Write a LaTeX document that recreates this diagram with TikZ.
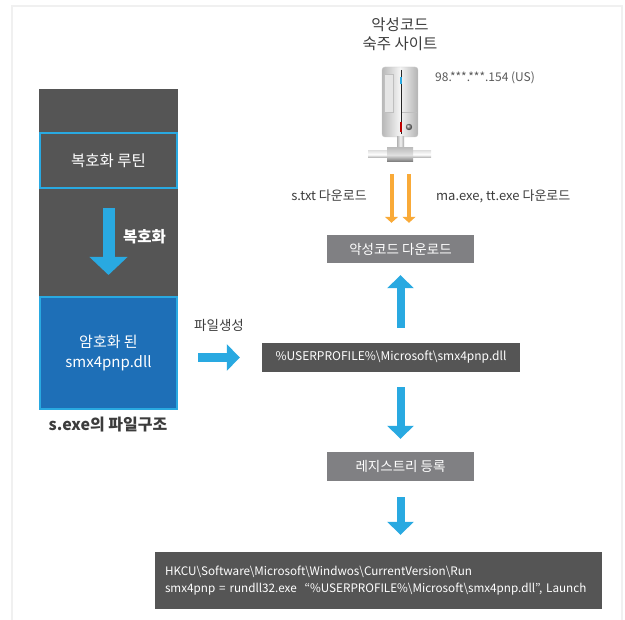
\documentclass[tikz,border=0pt]{standalone}
\usepackage{fontspec}
\setmainfont{Noto Sans CJK KR}
\usepackage{xcolor}
\definecolor{mwdark}{HTML}{555555}
\definecolor{mwgrey}{HTML}{808083}
\definecolor{mwsky}{HTML}{29A9E1}
\definecolor{mwblue}{HTML}{1E6FB7}
\definecolor{mworange}{HTML}{F9AA38}
\definecolor{mwtext}{HTML}{3C3C3C}
\definecolor{mwframe}{HTML}{F0F0F0}
\usepackage{tikz}
\usetikzlibrary{arrows.meta}

\begin{document}
\begin{tikzpicture}[x=1pt,y=-1pt,
  box/.style={inner sep=0pt,text=white,font=\fontsize{13.5}{15}\selectfont},
  darkbox/.style={box,fill=mwdark},
  greybox/.style={box,fill=mwgrey},
  skyline/.style={draw=mwsky,line width=2pt},
  bigarrow/.style={mwsky,line width=8pt,-{Triangle[width=26pt,length=13pt]}},
  dlarrow/.style={mworange,line width=4pt,-{Triangle[width=13pt,length=6pt]}},
  lbl/.style={text=mwtext,inner sep=0pt,font=\fontsize{13}{14}\selectfont}]
\useasboundingbox (0,0) rectangle (625,620);
\draw[mwframe,line width=2pt] (12,620) -- (12,6) -- (622,6) -- (622,620);

% file layout of s.exe
\node[darkbox,minimum width=139pt,minimum height=321pt] (col) at (108.5,249.5) {};
\node[darkbox,skyline,minimum width=137pt,minimum height=55pt,
  font=\fontsize{15.5}{17}\selectfont] (dec) at (108.5,160.5) {복호화 루틴};
\node[box,fill=mwblue,skyline,minimum width=137pt,minimum height=112pt,align=center,
  font=\fontsize{15}{20}\selectfont] (enc) at (108.5,353) {암호화 된\\smx4pnp.dll};
\draw[bigarrow,line width=12pt,-{Triangle[width=37pt,length=18pt]},
  shorten <=19pt,shorten >=21pt] (dec) -- (enc);
\node[text=white,anchor=west,inner sep=0pt,font=\bfseries\fontsize{15.5}{17}\selectfont]
  (declbl) at (123,237) {복호화};
\node[lbl,font=\bfseries\fontsize{16}{17}\selectfont] (cap) at (108,425) {s.exe의 파일구조};

% dropped dll and what it does
\node[darkbox,minimum width=258pt,minimum height=29pt,font=\fontsize{12}{14}\selectfont] (path) at (391,357.5)
  {\%USERPROFILE\%\textbackslash Microsoft\textbackslash smx4pnp.dll};
\draw[bigarrow,line width=9pt,shorten <=20pt,shorten >=22pt] (enc.east |- path.west) -- (path.west);
\node[lbl,font=\fontsize{13.5}{14}\selectfont] (mk) at (219,325) {파일생성};

\node[greybox,minimum width=147pt,minimum height=28pt] (dl) at (400.5,249) {악성코드 다운로드};
\node[greybox,minimum width=147pt,minimum height=29pt] (reg) at (400.5,466.5) {레지스트리 등록};
\node[darkbox,minimum width=447pt,minimum height=57pt,text width=427pt,align=left,
  font=\fontsize{11.7}{17}\selectfont] (run) at (378.5,580.5)
  {HKCU\textbackslash Software\textbackslash Microsoft\textbackslash Windwos\textbackslash CurrentVersion\textbackslash Run\\
   smx4pnp = rundll32.exe\ \ “\%USERPROFILE\%\textbackslash Microsoft\textbackslash smx4pnp.dll”, Launch};

\draw[bigarrow,shorten <=15pt,shorten >=12pt] (path.north -| dl) -- (dl.south);
\draw[bigarrow,shorten <=15pt,shorten >=13pt] (path.south -| reg) -- (reg.north);
\draw[bigarrow,shorten <=16pt,shorten >=17pt] (reg.south) -- (reg.south |- run.north);

% host server
\node[lbl,align=center,font=\fontsize{15.5}{19}\selectfont] (site) at (400,34) {악성코드\\숙주 사이트};
\shade[rounded corners=3pt,left color=black!28,right color=black!30,middle color=black!4]
  (382,67) rectangle (418,137);
\draw[black!22,line width=0.4pt,rounded corners=3pt] (382,67) rectangle (418,137);
\fill[black!10] (384,74) rectangle (393,112);
\draw[black!25,line width=0.4pt] (384,74) rectangle (393,112);
\draw[black!25,line width=0.4pt] (401,112) -- (417,112);
\draw[black!85,line width=0.9pt] (401,70) -- (401,134);
\fill[mwsky] (400.4,77) rectangle (401.8,84);
\fill[red!75!black] (400.4,122) rectangle (401.8,132);
\shade[ball color=black!45] (409,127) circle (3.2pt);
\shade[left color=black!30,right color=black!35,middle color=black!5] (397,137) rectangle (404,150);
\shade[top color=black!10,bottom color=black!35,middle color=white] (368,151) rectangle (431,158);
\node[inner sep=0pt,minimum width=26pt,minimum height=14pt,
  top color=black!25,bottom color=black!55,middle color=black!12] (srv) at (400,155) {};
\node[anchor=west,inner sep=0pt,text=black!65,font=\fontsize{12}{12}\selectfont]
  (ip) at (435,78) {98.***.***.154 (US)};

\draw[dlarrow,shorten <=12pt,shorten >=12pt] ([xshift=-8.5pt]srv.south) -- ([xshift=-8.5pt]srv.south |- dl.north);
\draw[dlarrow,shorten <=12pt,shorten >=12pt] ([xshift=9pt]srv.south) -- ([xshift=9pt]srv.south |- dl.north);
\node[lbl,anchor=east] (txtlbl) at (367,196) {s.txt 다운로드};
\node[lbl,anchor=west] (exelbl) at (436,196) {ma.exe, tt.exe 다운로드};
\end{tikzpicture}
\end{document}
